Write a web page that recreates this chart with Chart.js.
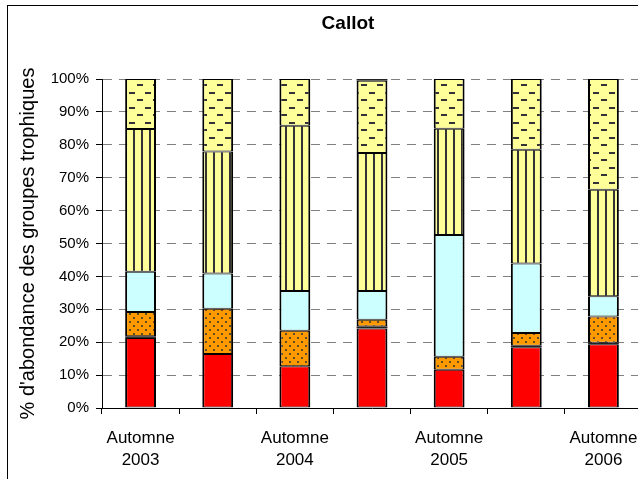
<!DOCTYPE html>
<html>
<head>
<meta charset="utf-8">
<script src="https://cdn.jsdelivr.net/npm/chart.js@4"></script>
<style>
html,body{margin:0;padding:0;overflow:hidden;background:#fff;width:638px;height:479px;}
#wrap{position:absolute;left:0;top:0;width:700px;height:479px;}
</style>
</head>
<body>
<div id="wrap"><canvas id="c" width="700" height="479"></canvas></div>
<script>
const categories = [["Automne","2003"], "", ["Automne","2004"], "", ["Automne","2005"], "", ["Automne","2006"]];
const seriesRed    = [21.3, 16.4, 12.7, 24.2, 11.6, 18.5, 19.4];
const seriesDark   = [0.5, null, null, 0.6, null, 0.4, 0.4];
const seriesOrange = [7.4, 13.8, 10.8, 2.0, 4.0, 3.9, 8.0];
const seriesCyan   = [12.2, 10.7, 12.1, 8.8, 37.0, 21.1, 6.2];
const seriesVert   = [43.4, 37.1, 50.2, 41.9, 32.3, 34.6, 32.3];
const seriesDash   = [15.2, 22.0, 14.2, 22.0, 15.1, 21.5, 33.7];
const seriesTop    = [null, null, null, 0.5, null, null, null];
const yTicks = [0,10,20,30,40,50,60,70,80,90,100];

function makePattern(w, h, bg, draw) {
  const c = document.createElement('canvas');
  c.width = w; c.height = h;
  const x = c.getContext('2d');
  x.fillStyle = bg; x.fillRect(0,0,w,h);
  draw(x);
  return x.createPattern(c, 'repeat');
}
const ctx = document.getElementById('c').getContext('2d');
const dotPat = makePattern(8, 8, '#FF9900', x => {
  x.fillStyle = '#333';
  x.beginPath(); x.arc(2,2,1,0,Math.PI*2); x.fill();
  x.beginPath(); x.arc(6,6,1,0,Math.PI*2); x.fill();
});
const vertPat = makePattern(8, 8, '#FFFF99', x => {
  x.fillStyle = '#333';
  x.fillRect(5,0,2,8);
});
const dashPat = makePattern(16, 15, '#FFFF99', x => {
  x.fillStyle = '#333';
  x.fillRect(1,2,6,2);
  x.fillRect(9,9,6,2);
});

function ds(label, data, bg, bw) {
  return {label, data, backgroundColor: bg, borderColor: '#000',
    borderWidth: bw === undefined ? {top: 1, bottom: 1, left: 2, right: 2} : bw,
    borderSkipped: false, categoryPercentage: 1.0, barPercentage: 0.4};
}

const FONT = '"Liberation Sans", Arial, sans-serif';
const framePlugin = {
  id: 'frame',
  afterDraw(chart) {
    const c = chart.ctx;
    c.save();
    c.strokeStyle = '#000'; c.lineWidth = 1;
    c.strokeRect(7.5, 5.5, 683, 480);
    c.fillStyle = '#000';
    c.font = 'bold 19px ' + FONT;
    c.textAlign = 'center'; c.textBaseline = 'alphabetic';
    c.fillText('Callot', 348, 29);
    c.restore();
  }
};

new Chart(ctx, {
  type: 'bar',
  data: {
    labels: categories,
    datasets: [
      ds('a', seriesRed, '#FF0000'),
      ds('b', seriesDark, '#222', 0),
      ds('c', seriesOrange, dotPat),
      ds('d', seriesCyan, '#CCFFFF'),
      ds('e', seriesVert, vertPat),
      ds('f', seriesDash, dashPat),
      ds('g', seriesTop, '#222', 0)
    ]
  },
  options: {
    responsive: false,
    devicePixelRatio: 1,
    animation: false,
    layout: {padding: {left: 0, top: 79, right: 58, bottom: 0}},
    plugins: {legend: {display: false}, title: {display: false}, tooltip: {enabled: false}},
    scales: {
      x: {
        stacked: true,
        offset: true,
        grid: {offset: true, drawOnChartArea: false, drawTicks: true, tickLength: 6, color: '#000', tickColor: '#000'},
        border: {display: true, color: '#000', width: 1},
        ticks: {color: '#000', padding: 13, maxRotation: 0, autoSkip: false,
          font: {family: FONT, size: 17, lineHeight: 1.3}},
        afterFit(s) { s.height = 479 - 408; }
      },
      y: {
        stacked: true,
        min: 0, max: 100,
        afterBuildTicks(s) { s.ticks = yTicks.map(v => ({value: v})); },
        grid: {color: '#808080', lineWidth: 1, tickLength: 6, tickColor: '#000', tickBorderDash: []},
        border: {display: true, color: '#000', width: 1, dash: [9,7]},
        ticks: {color: '#000', padding: 7, callback: v => v + '%',
          font: {family: FONT, size: 15}},
        title: {display: true, text: "% d'abondance des groupes trophiques", color: '#000',
          padding: {top: 16, bottom: 0},
          font: {family: FONT, size: 20}},
        afterFit(s) { s.width = 102; }
      }
    }
  },
  plugins: [framePlugin]
});
</script>
</body>
</html>
